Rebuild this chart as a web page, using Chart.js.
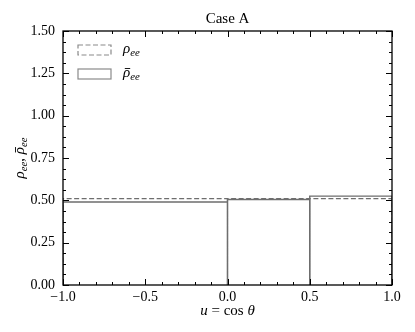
<!DOCTYPE html>
<html lang="en">
  <head>
    <meta charset="UTF-8" />
    <title>Case A</title>
    <script src="https://cdn.jsdelivr.net/npm/chart.js@4"></script>
  </head>
  <style>
    * {
      margin: 0;
      padding: 0;
      box-sizing: border-box;
    }
    body {
      width: 415px;
      height: 332px;
      background: #ffffff;
      overflow: hidden;
    }
  </style>
  <body>
    <canvas id="hist" width="415" height="332"></canvas>
    <script>
      // bin edges in u = cos(theta) and the two histograms
      const binEdges = [-1, 0, 0.5, 1];
      const rhoEE = [0.51, 0.51, 0.51];
      const rhoBarEE = [0.49, 0.505, 0.525];
      const xTicks = [-1, -0.5, 0, 0.5, 1];
      const yTicks = [0, 0.25, 0.5, 0.75, 1, 1.25, 1.5];

      const serif = "'Liberation Serif', 'DejaVu Serif', serif";
      const lineColor = "#6e6e6e";

      // each bin as a closed rectangle outline (bar with no fill)
      const outline = (vals) => {
        let pts = [];
        vals.forEach((v, i) => {
          pts.push({ x: binEdges[i], y: 0 });
          pts.push({ x: binEdges[i], y: v });
          pts.push({ x: binEdges[i + 1], y: v });
          pts.push({ x: binEdges[i + 1], y: 0 });
          pts.push({ x: binEdges[i + 1], y: null });
        });
        return pts;
      };

      // write text with italic symbols, subscripts and an overbar
      const drawMath = (ctx, parts, x, y, size) => {
        let cx = x;
        for (const p of parts) {
          let fs = p.sub ? size * 0.72 : size;
          ctx.font = (p.it ? "italic " : "") + fs + "px " + serif;
          let dy = p.sub ? size * 0.25 : 0;
          ctx.fillText(p.t, cx, y + dy);
          let w = ctx.measureText(p.t).width;
          if (p.bar) {
            ctx.save();
            ctx.strokeStyle = ctx.fillStyle;
            ctx.lineWidth = 0.9;
            ctx.beginPath();
            ctx.moveTo(cx + w * 0.25, y - size * 0.3);
            ctx.lineTo(cx + w * 1.0, y - size * 0.3);
            ctx.stroke();
            ctx.restore();
          }
          cx += w;
        }
        return cx - x;
      };
      const mathWidth = (ctx, parts, size) => {
        let w = 0;
        for (const p of parts) {
          let fs = p.sub ? size * 0.72 : size;
          ctx.font = (p.it ? "italic " : "") + fs + "px " + serif;
          w += ctx.measureText(p.t).width;
        }
        return w;
      };

      const rhoLabel = [
        { t: "ρ", it: true },
        { t: "ee", it: true, sub: true },
      ];
      const rhoBarLabel = [
        { t: "ρ", it: true, bar: true },
        { t: "ee", it: true, sub: true },
      ];

      const decorations = {
        id: "decorations",
        afterDatasetsDraw(chart) {
          const ctx = chart.ctx;
          const area = chart.chartArea;
          const xs = chart.scales.x;
          const ys = chart.scales.y;
          ctx.save();
          ctx.strokeStyle = "#000";
          ctx.lineWidth = 1;
          ctx.beginPath();
          // inward ticks, all four sides
          for (let i = 0; i <= 20; i++) {
            let v = -1 + i * 0.1;
            let len = i % 5 == 0 ? 6 : 3;
            let px = Math.round(xs.getPixelForValue(v)) + 0.5;
            ctx.moveTo(px, area.bottom);
            ctx.lineTo(px, area.bottom - len);
            ctx.moveTo(px, area.top);
            ctx.lineTo(px, area.top + len);
          }
          for (let i = 0; i <= 24; i++) {
            let v = i * 0.0625;
            let len = i % 4 == 0 ? 6 : 3;
            let py = Math.round(ys.getPixelForValue(v)) + 0.5;
            ctx.moveTo(area.left, py);
            ctx.lineTo(area.left + len, py);
            ctx.moveTo(area.right, py);
            ctx.lineTo(area.right - len, py);
          }
          ctx.stroke();
          ctx.lineWidth = 1.3;
          ctx.strokeRect(area.left, area.top, area.right - area.left, area.bottom - area.top);

          // legend in upper left
          ctx.fillStyle = "#000";
          ctx.textBaseline = "middle";
          ctx.textAlign = "left";
          chart.data.datasets.forEach((ds, i) => {
            let bx = area.left + 15;
            let by = area.top + 14 + i * 24;
            ctx.strokeStyle = "#8a8a8a";
            ctx.lineWidth = 1.2;
            ctx.setLineDash(ds.borderDash || []);
            ctx.strokeRect(bx, by, 33, 10);
            ctx.setLineDash([]);
            ctx.fillStyle = "#000";
            drawMath(ctx, i == 0 ? rhoLabel : rhoBarLabel, bx + 45, by + 4, 15);
          });

          // title
          ctx.textAlign = "left";
          ctx.font = "15px " + serif;
          let mid = (area.left + area.right) / 2;
          let tw = ctx.measureText("Case A").width;
          ctx.fillText("Case A", mid - tw / 2, 19);

          // x axis label
          const xl = [
            { t: "u", it: true },
            { t: " = cos " },
            { t: "θ", it: true },
          ];
          let xw = mathWidth(ctx, xl, 15);
          drawMath(ctx, xl, mid - xw / 2, 311, 15);

          // y axis label
          const yl = [
            { t: "ρ", it: true },
            { t: "ee", it: true, sub: true },
            { t: ", " },
            { t: "ρ", it: true, bar: true },
            { t: "ee", it: true, sub: true },
          ];
          let yw = mathWidth(ctx, yl, 15);
          ctx.translate(20, (area.top + area.bottom) / 2);
          ctx.rotate(-Math.PI / 2);
          drawMath(ctx, yl, -yw / 2, 0, 15);
          ctx.restore();
        },
      };

      const fmtX = (v) => {
        let s = Number(v).toFixed(1);
        return s.replace("-", "\u2212");
      };

      let histChart = new Chart(document.querySelector("#hist"), {
        type: "line",
        plugins: [decorations],
        data: {
          datasets: [
            {
              label: "rho_ee",
              data: outline(rhoEE),
              borderColor: lineColor,
              borderWidth: 1.2,
              borderDash: [5, 2.5],
              pointRadius: 0,
              fill: false,
              spanGaps: false,
              tension: 0,
            },
            {
              label: "rhobar_ee",
              data: outline(rhoBarEE),
              borderColor: lineColor,
              borderWidth: 1.4,
              pointRadius: 0,
              fill: false,
              spanGaps: false,
              tension: 0,
            },
          ],
        },
        options: {
          responsive: false,
          animation: false,
          layout: { padding: { top: 31, right: 23, bottom: 0, left: 0 } },
          plugins: {
            legend: { display: false },
            tooltip: { enabled: false },
            title: { display: false },
          },
          scales: {
            x: {
              type: "linear",
              min: -1,
              max: 1,
              afterFit: (scale) => {
                scale.height = 47;
              },
              afterBuildTicks: (scale) => {
                scale.ticks = xTicks.map((v) => ({ value: v }));
              },
              grid: { display: false, drawTicks: false },
              border: { display: false },
              ticks: {
                color: "#000",
                padding: 4,
                maxRotation: 0,
                font: { family: serif, size: 14 },
                callback: fmtX,
              },
            },
            y: {
              type: "linear",
              min: 0,
              max: 1.5,
              afterFit: (scale) => {
                scale.width = 63;
              },
              afterBuildTicks: (scale) => {
                scale.ticks = yTicks.map((v) => ({ value: v }));
              },
              grid: { display: false, drawTicks: false },
              border: { display: false },
              ticks: {
                color: "#000",
                padding: 8,
                font: { family: serif, size: 14 },
                callback: (v) => Number(v).toFixed(2),
              },
            },
          },
        },
      });
    </script>
  </body>
</html>
